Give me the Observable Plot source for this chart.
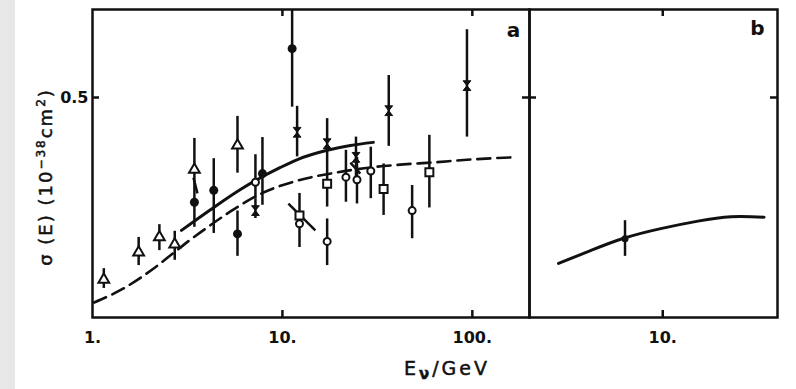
<!DOCTYPE html>
<html><head><meta charset="utf-8">
<script src="https://cdn.jsdelivr.net/npm/d3@7"></script>
<script src="https://cdn.jsdelivr.net/npm/@observablehq/plot@0.6"></script>
<style>
html,body{margin:0;padding:0;background:#fff;}
#wrap{position:relative;width:796px;height:389px;overflow:hidden;font-family:"DejaVu Sans",sans-serif;color:#111;}
#strip{position:absolute;left:0;top:0;width:15px;height:389px;background:#e7e7e7;}
#pa,#pb{position:absolute;top:0;}
#pa{left:0;}
#pb{left:520px;}
#ylab{position:absolute;left:45px;top:177px;transform:translate(-50%,-50%) rotate(-90deg);white-space:nowrap;font-size:18px;letter-spacing:2px;-webkit-text-stroke:0.5px #111;}
#ylab sup{font-size:12px;}
#xlab{position:absolute;left:447px;top:370px;transform:translate(-50%,-50%);white-space:nowrap;font-size:19px;letter-spacing:3px;-webkit-text-stroke:0.5px #111;}
#xlab sub{font-size:15px;font-weight:bold;}
</style></head><body>
<div id="wrap">
<div id="strip"></div>
<div id="pa"></div>
<div id="pb"></div>
<div id="ylab">σ (E) (10<sup>−38</sup>cm<sup>2</sup>)</div>
<div id="xlab">E<sub>ν</sub>/GeV</div>
</div>
<script>
// Panel a data: [E (GeV), sigma, lower error, upper error]
const triangles = [[1.147,0.086,0.066,0.111],[1.75,0.148,0.118,0.182],[2.25,0.1825,0.152,0.211],[2.71,0.166,0.130,0.196],[3.44,0.336,0.30,0.407],[5.8,0.391,0.328,0.457]];
const filledCircles = [[3.44,0.262,0.205,0.30],[4.35,0.289,0.191,0.361],[5.8,0.190,0.139,0.242],[7.85,0.327,0.255,0.409],[11.25,0.611,0.478,0.72]];
const openCircles = [[7.21,0.3075,0.27,0.370],[12.3,0.213,0.159,0.232],[17.2,0.173,0.118,0.224],[21.6,0.319,0.262,0.380],[24.7,0.313,0.258,0.364],[29.2,0.333,0.270,0.387],[48.2,0.243,0.179,0.300]];
const openSquares = [[12.3,0.232,0.213,0.282],[17.2,0.304,0.251,0.350],[34.1,0.292,0.232,0.349],[59.4,0.330,0.249,0.414]];
const hourglasses = [[7.21,0.243,0.225,0.27],[11.95,0.421,0.365,0.48],[17.2,0.395,0.350,0.452],[24.4,0.364,0.313,0.41],[36.3,0.470,0.389,0.550],[93.7,0.527,0.410,0.654]];
// short slanted strokes attached to some markers: [E1, s1, E2, s2]
const slashes = [[3.40,0.318,3.57,0.282],[10.75,0.259,14.9,0.198],[22.8,0.352,25.7,0.327]];
// curves [E, sigma]
const solidA = [[2.94,0.198],[4.18,0.245],[6.01,0.291],[9.76,0.341],[12.0,0.359],[17.2,0.380],[22.8,0.391],[30.1,0.398]];
const dashedA = [[1.02,0.034],[1.456,0.066],[2.20,0.118],[2.73,0.150],[3.28,0.177],[4.03,0.205],[5.33,0.241],[7.94,0.284],[12.0,0.311],[19.5,0.330],[29.1,0.341],[43.4,0.348],[60.1,0.352],[97.6,0.359],[162,0.364]];
// Panel b
const solidB = [[2.84,0.123],[4.18,0.152],[6.24,0.180],[9.76,0.202],[15.3,0.219],[22.8,0.229],[34.0,0.228]];
const pointB = [[6.34,0.179,0.139,0.220]];
// axes
const xDomainA = [1, 200];
const xDomainB = [2, 40];
const yDomain = [0, 0.7];
const xTicksA = [1, 10, 100];
const xTickMarksA = [10, 100];
const xTicksB = [10];
const yTicks = [0.5];

const hourglass = {draw(ctx, size) {const r = Math.sqrt(size) / 2, w = r * 0.8; ctx.moveTo(-w, -r); ctx.lineTo(w, -r); ctx.lineTo(-w, r); ctx.lineTo(w, r); ctx.closePath();}};
const E = d => d[0], S = d => d[1], LO = d => d[2], HI = d => d[3];
const allPts = [...triangles, ...filledCircles, ...openCircles, ...openSquares, ...hourglasses];
const style = {background: "transparent", fontFamily: "DejaVu Sans, sans-serif", fontSize: "16px", fontWeight: "bold", color: "#111"};
const ink = "#111";
const W = 437, H = 308, TL = 7;
const curve = "monotone-x";

const pa = Plot.plot({
  width: 541, height: 389, marginLeft: 92, marginRight: 12, marginTop: 9, marginBottom: 72,
  style,
  x: {type: "log", domain: xDomainA},
  y: {domain: yDomain},
  marks: [
    Plot.ruleX(allPts, {x: E, y1: LO, y2: HI, stroke: ink, strokeWidth: 2.5, clip: true}),
    Plot.line(solidA, {x: E, y: S, stroke: ink, strokeWidth: 3, curve}),
    Plot.line(dashedA, {x: E, y: S, stroke: ink, strokeWidth: 2.6, strokeDasharray: "13,7", curve}),
    Plot.link(slashes, {x1: d => d[0], y1: d => d[1], x2: d => d[2], y2: d => d[3], stroke: ink, strokeWidth: 2.5}),
    Plot.dot(triangles, {x: E, y: S, symbol: "triangle", r: 4, fill: "white", stroke: ink, strokeWidth: 2}),
    Plot.dot(filledCircles, {x: E, y: S, r: 4.5, fill: ink, stroke: "none"}),
    Plot.dot(openCircles, {x: E, y: S, r: 3.5, fill: "white", stroke: ink, strokeWidth: 2}),
    Plot.dot(openSquares, {x: E, y: S, symbol: "square", r: 4.5, fill: "white", stroke: ink, strokeWidth: 2}),
    Plot.dot(hourglasses, {x: E, y: S, symbol: hourglass, r: 5.5, fill: ink, stroke: ink, strokeWidth: 1}),
    Plot.tickX(xTickMarksA, {x: d => d, insetTop: H - TL, stroke: ink, strokeWidth: 2.5}),
    Plot.tickX(xTickMarksA, {x: d => d, insetBottom: H - TL, stroke: ink, strokeWidth: 2.5}),
    Plot.tickY(yTicks, {y: d => d, insetRight: W - TL, stroke: ink, strokeWidth: 2.5}),
    Plot.tickY(yTicks, {y: d => d, insetLeft: W - TL, stroke: ink, strokeWidth: 2.5}),
    Plot.axisX({ticks: xTicksA, tickSize: 0, tickPadding: 14, tickFormat: d => d + "."}),
    Plot.axisY({ticks: yTicks, tickSize: 0, tickPadding: 4, tickFormat: d => String(d)}),
    Plot.text(["a"], {text: d => d, frameAnchor: "top-right", dx: -16, dy: 21, fontSize: 20, textAnchor: "middle", lineAnchor: "middle"}),
    Plot.frame({stroke: ink, strokeWidth: 2.5})
  ]
});
document.getElementById("pa").append(pa);

const WB = 248;
const pb = Plot.plot({
  width: 269, height: 389, marginLeft: 9, marginRight: 12, marginTop: 9, marginBottom: 72,
  style,
  x: {type: "log", domain: xDomainB},
  y: {domain: yDomain, axis: null},
  marks: [
    Plot.line(solidB, {x: E, y: S, stroke: ink, strokeWidth: 3, curve: "natural"}),
    Plot.ruleX(pointB, {x: E, y1: LO, y2: HI, stroke: ink, strokeWidth: 2.5}),
    Plot.dot(pointB, {x: E, y: S, r: 3.5, fill: ink, stroke: "none"}),
    Plot.tickX(xTicksB, {x: d => d, insetTop: H - TL, stroke: ink, strokeWidth: 2.5}),
    Plot.tickX(xTicksB, {x: d => d, insetBottom: H - TL, stroke: ink, strokeWidth: 2.5}),
    Plot.tickY(yTicks, {y: d => d, insetRight: WB - TL, stroke: ink, strokeWidth: 2.5}),
    Plot.tickY(yTicks, {y: d => d, insetLeft: WB - TL, stroke: ink, strokeWidth: 2.5}),
    Plot.axisX({ticks: xTicksB, tickSize: 0, tickPadding: 14, tickFormat: d => d + "."}),
    Plot.text(["b"], {text: d => d, frameAnchor: "top-right", dx: -20, dy: 19, fontSize: 20, textAnchor: "middle", lineAnchor: "middle"}),
    Plot.frame({stroke: ink, strokeWidth: 2.5})
  ]
});
document.getElementById("pb").append(pb);
</script>
</body></html>
